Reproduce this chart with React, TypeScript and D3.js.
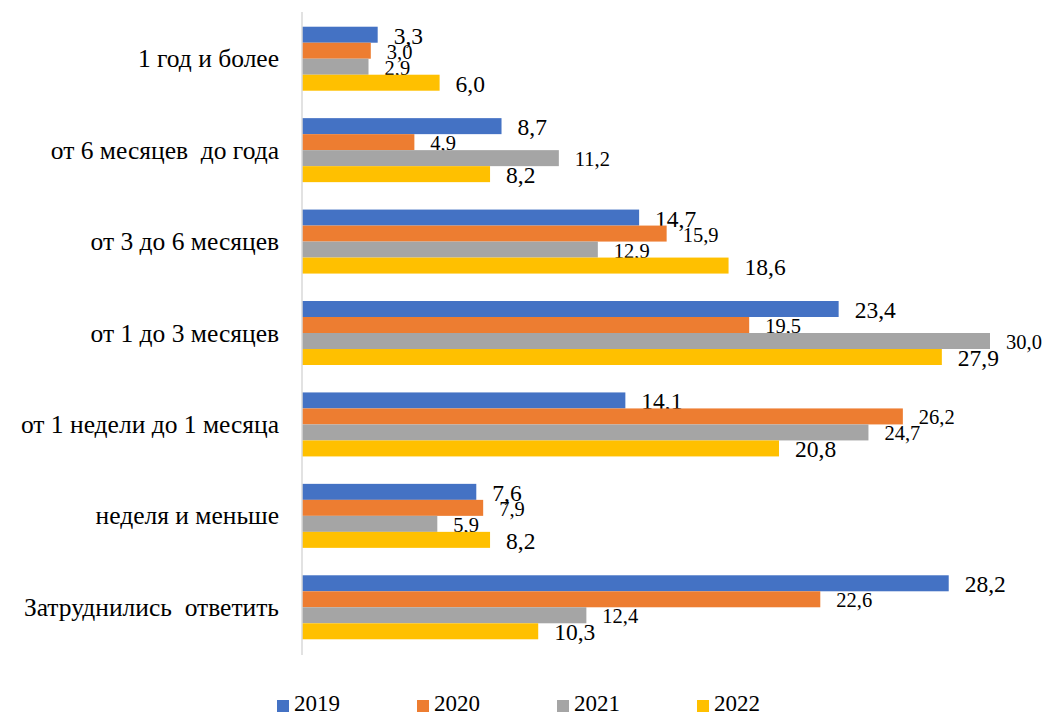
import React from "react";
import * as d3 from "d3";

const categories = [
  "1 год и более",
  "от 6 месяцев  до года",
  "от 3 до 6 месяцев",
  "от 1 до 3 месяцев",
  "от 1 недели до 1 месяца",
  "неделя и меньше",
  "Затруднились  ответить",
];
const seriesNames = ["2019", "2020", "2021", "2022"];
const values2019 = [3.3, 8.7, 14.7, 23.4, 14.1, 7.6, 28.2];
const values2020 = [3.0, 4.9, 15.9, 19.5, 26.2, 7.9, 22.6];
const values2021 = [2.9, 11.2, 12.9, 30.0, 24.7, 5.9, 12.4];
const values2022 = [6.0, 8.2, 18.6, 27.9, 20.8, 8.2, 10.3];
const seriesValues = [values2019, values2020, values2021, values2022];
const colors = ["#4472C4", "#ED7D31", "#A5A5A5", "#FFC000"];

const W = 1046;
const H = 717;
const FONT = "'Liberation Serif', 'Times New Roman', serif";

export default function App() {
  const x = d3.scaleLinear().domain([0, 30]).range([302, 990]);
  const y = d3
    .scaleBand<string>()
    .domain(categories)
    .range([13, 653])
    .paddingInner(0.3)
    .paddingOuter(0.15);
  const inner = d3
    .scaleBand<string>()
    .domain(seriesNames)
    .range([0, y.bandwidth()]);
  const fmt = (v: number) => v.toFixed(1).replace(".", ",");
  const labelSize = [23.5, 20.5, 20.5, 23.5];

  return (
    <svg
      width={W}
      height={H}
      style={{ position: "absolute", left: 0, top: 0, background: "#fff", fontFamily: FONT }}
    >
      <rect x={0} y={0} width={W} height={H} fill="#fff" />
      {categories.map((c, i) => (
        <g key={c}>
          <text
            x={279}
            y={(y(c) as number) + y.bandwidth() / 2}
            textAnchor="end"
            dominantBaseline="central"
            fontSize={25.5}
            fill="#000"
            style={{ whiteSpace: "pre", fontFamily: FONT }}
          >
            {c}
          </text>
          {seriesNames.map((s, j) => {
            const v = seriesValues[j][i];
            const by = (y(c) as number) + (inner(s) as number);
            return (
              <g key={s}>
                <rect
                  x={x(0)}
                  y={by}
                  width={x(v) - x(0)}
                  height={inner.bandwidth()}
                  fill={colors[j]}
                />
                <text
                  x={x(v) + 16}
                  y={by + inner.bandwidth() / 2 + 1}
                  dominantBaseline="central"
                  fontSize={labelSize[j]}
                  fill="#000"
                  style={{ fontFamily: FONT }}
                >
                  {fmt(v)}
                </text>
              </g>
            );
          })}
        </g>
      ))}
      <line x1={x(0)} x2={x(0)} y1={12} y2={655} stroke="#D9D9D9" strokeWidth={1.5} />
      {seriesNames.map((s, j) => {
        const lx = 277 + j * 140;
        return (
          <g key={s}>
            <rect x={lx} y={700} width={12} height={12} fill={colors[j]} />
            <text x={lx + 17} y={711} fontSize={23} fill="#000" style={{ fontFamily: FONT }}>
              {s}
            </text>
          </g>
        );
      })}
    </svg>
  );
}
